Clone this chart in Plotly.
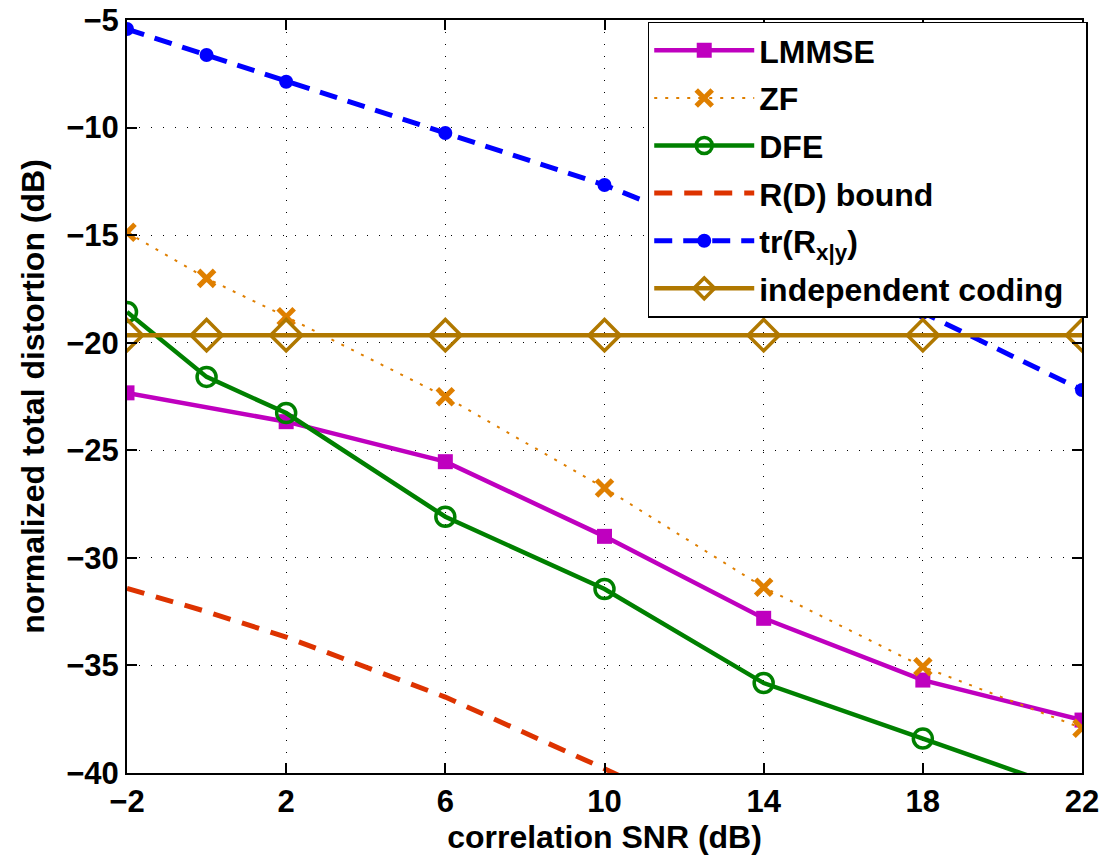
import plotly.graph_objects as go

# ---- data ----
snr_all = [-2, 0, 2, 6, 10, 14, 18, 22]
snr_lmmse = [-2, 2, 6, 10, 14, 18, 22]
lmmse = [-22.33, -23.67, -25.53, -29.0, -32.81, -35.68, -37.54]
zf = [-14.87, -17.01, -18.79, -22.51, -26.75, -31.37, -35.06, -37.92]
dfe = [-18.57, -21.59, -23.27, -28.09, -31.45, -35.82, -38.4, -41.0]
rd_bound = [-31.42, -32.5, -33.68, -36.47, -39.8, -43.3, -46.8, -50.3]
tr_rxy = [-5.42, -6.63, -7.87, -10.25, -12.67, -15.65, -18.6, -22.2]
indep = [-19.65, -19.65, -19.65, -19.65, -19.65, -19.65, -19.65, -19.65]

x_ticks = [-2, 2, 6, 10, 14, 18, 22]
y_ticks = [-40, -35, -30, -25, -20, -15, -10, -5]

FONT = "Liberation Sans, Arial, sans-serif"
PAD = "\u00a0\u00a0"

fig = go.Figure()

fig.add_trace(go.Scatter(
    x=snr_lmmse, y=lmmse, name="LMMSE", mode="lines+markers", legendgroup="a",
    line=dict(color="#BF00BF", width=4.5),
    marker=dict(symbol="square", size=15, color="#BF00BF")))
fig.add_trace(go.Scatter(
    x=snr_all, y=zf, name="ZF", mode="lines+markers", legendgroup="b",
    line=dict(color="#DF7F00", width=2, dash="3px,8px"),
    marker=dict(symbol="x-thin", size=16, color="#DF7F00",
                line=dict(color="#DF7F00", width=5))))
fig.add_trace(go.Scatter(
    x=snr_all, y=dfe, name="DFE", mode="lines+markers", legendgroup="c",
    line=dict(color="#008000", width=4.5),
    marker=dict(symbol="circle-open", size=19, color="#008000",
                line=dict(color="#008000", width=3.5))))
fig.add_trace(go.Scatter(
    x=snr_all, y=rd_bound, name="R(D) bound", mode="lines", legendgroup="d",
    line=dict(color="#DD3300", width=5, dash="18px,12px")))
fig.add_trace(go.Scatter(
    x=snr_all, y=tr_rxy, name="tr(R<sub>x|y</sub>)", mode="lines+markers", legendgroup="e",
    line=dict(color="#0000FF", width=5, dash="18px,11px"),
    marker=dict(symbol="circle", size=14, color="#0000FF")))
fig.add_trace(go.Scatter(
    x=snr_all, y=indep, name="independent coding" + PAD, mode="lines+markers", legendgroup="f",
    line=dict(color="#B07800", width=4.5),
    marker=dict(symbol="diamond-open", size=24, color="#B07800",
                line=dict(color="#B07800", width=3.5))))

axis_common = dict(
    showline=True, linecolor="black", linewidth=2, mirror="ticks",
    ticks="inside", ticklen=10, tickwidth=1.5, tickcolor="black",
    showgrid=True, gridcolor="black", gridwidth=1, griddash="1px,11px",
    zeroline=False, automargin=False,
    tickfont=dict(family=FONT, size=31, color="black", weight="bold"),
)

fig.update_xaxes(
    range=[-2, 22], tickvals=x_ticks, ticktext=[str(v).replace("-", "\u2212") for v in x_ticks],
    title=dict(text="correlation SNR (dB)", font=dict(family=FONT, size=32, color="black", weight="bold"),
               standoff=2),
    **axis_common)
fig.update_yaxes(
    range=[-40, -5], tickvals=y_ticks, ticktext=[str(v).replace("-", "\u2212") for v in y_ticks],
    title=dict(text="normalized total distortion (dB)", font=dict(family=FONT, size=32, color="black", weight="bold"),
               standoff=12),
    **axis_common)

fig.update_layout(
    width=1104, height=859,
    margin=dict(l=127, r=22, t=20, b=86),
    plot_bgcolor="white", paper_bgcolor="white",
    showlegend=True,
    legend=dict(
        x=1.006, y=0.998, xanchor="right", yanchor="top",
        bgcolor="white", bordercolor="black", borderwidth=1.5,
        font=dict(family=FONT, size=32, color="black", weight="bold"),
        tracegroupgap=3, itemwidth=100,
    ),
)

fig.write_html("out.html", config={"displayModeBar": False},
               post_script="document.body.style.margin='0px';")
